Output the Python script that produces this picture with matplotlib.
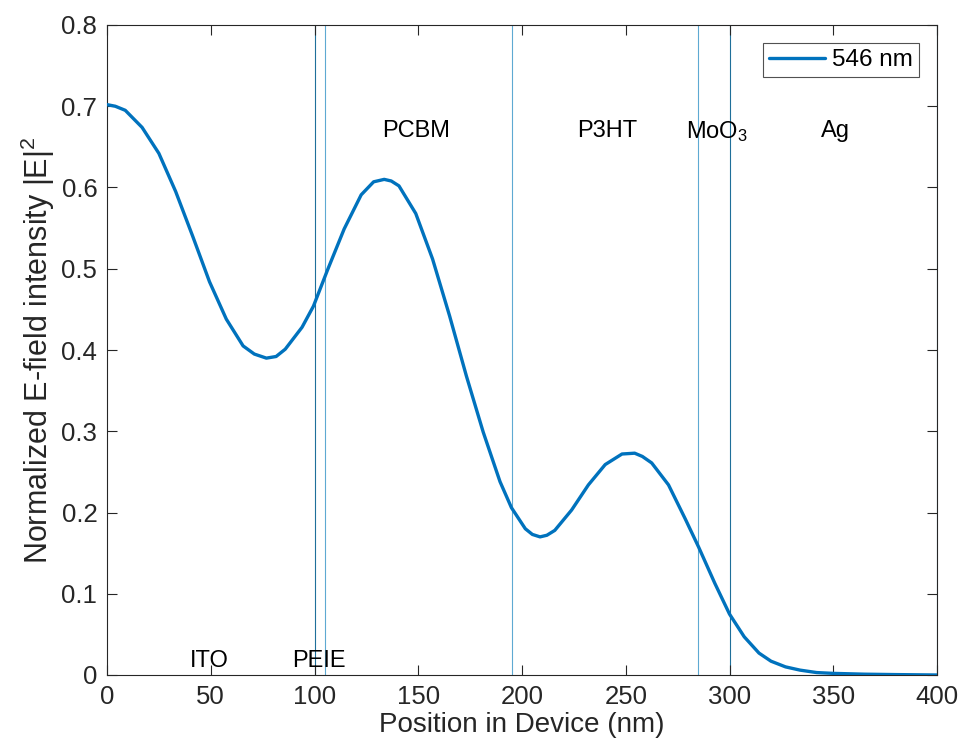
import numpy as np
import matplotlib
matplotlib.use('Agg')
import matplotlib.pyplot as plt

# E-field profile (position nm, normalized |E|^2)
pos = [0, 4, 8.8, 16.9, 25.0, 33.1, 41.3, 49.4, 57.5, 65.6, 71, 76.8, 81.5,
       85.9, 94.0, 99.5, 106.2, 114.3, 122.5, 128.5, 133.6, 137, 140.7, 148.8,
       156.9, 165.1, 173.2, 181.3, 189.4, 194.9, 201.6, 205, 208.7, 212, 215.8,
       223.9, 232.0, 240.1, 248.2, 254.3, 258, 262.5, 270.6, 278.7, 285.2,
       292.9, 300, 307.1, 314.2, 320, 327, 334, 342, 350, 365, 380, 400]
field = [0.702, 0.700, 0.695, 0.674, 0.642, 0.595, 0.540, 0.484, 0.438, 0.405,
         0.395, 0.390, 0.392, 0.401, 0.428, 0.454, 0.498, 0.549, 0.591, 0.607,
         0.610, 0.608, 0.602, 0.568, 0.512, 0.442, 0.368, 0.299, 0.238, 0.206,
         0.180, 0.173, 0.170, 0.172, 0.178, 0.203, 0.234, 0.259, 0.272, 0.273,
         0.269, 0.261, 0.234, 0.192, 0.157, 0.113, 0.075, 0.047, 0.027, 0.017,
         0.010, 0.006, 0.003, 0.002, 0.001, 0.0005, 0.0]

# layer boundaries (nm)
bounds = [100, 105, 195, 285, 300, 400]
bound_dark = [True, False, False, False, True, False]

# layer labels: text, x, y
layer_names = ['ITO', 'PEIE', 'PCBM', 'P3HT', 'MoO$_3$', 'Ag']
layer_x = [49.5, 102, 149, 241, 294, 351]
layer_y = [0.017, 0.017, 0.669, 0.669, 0.669, 0.669]

plt.rcParams['font.family'] = ['Liberation Sans', 'DejaVu Sans']
plt.rcParams['mathtext.fontset'] = 'custom'
plt.rcParams['mathtext.rm'] = 'Liberation Sans'
plt.rcParams['mathtext.it'] = 'Liberation Sans'

fig = plt.figure(figsize=(9.66, 7.46), dpi=100)
ax = fig.add_axes([107/966, 71/746, 830/966, 650/746])

for b, dark in zip(bounds, bound_dark):
    ax.axvline(b, color='#1f6f9a' if dark else '#5ea9d2', lw=0.8, zorder=1)

ax.plot(pos, field, color='#0072BD', lw=2.4, label='546 nm', zorder=3,
        solid_joinstyle='round', solid_capstyle='round')

for name, x, y in zip(layer_names, layer_x, layer_y):
    ax.text(x, y, name, ha='center', va='center', fontsize=17, color='black')

ax.set_xlim(0, 400)
ax.set_ylim(0, 0.8)
ax.set_xticks(np.arange(0, 401, 50))
ax.set_yticks(np.arange(0, 0.81, 0.1))
ax.set_yticklabels(['0', '0.1', '0.2', '0.3', '0.4', '0.5', '0.6', '0.7', '0.8'])
ax.tick_params(direction='in', top=True, right=True, labelsize=18.5,
               colors='#262626', length=7, width=0.8, pad=7)
for s in ax.spines.values():
    s.set_color('#262626')
    s.set_linewidth(0.8)

ax.set_xlabel('Position in Device (nm)', fontsize=20, color='#262626', labelpad=2)
ax.set_ylabel('Normalized E-field intensity |E|$^2$', fontsize=22,
              color='#262626', labelpad=3)

leg = ax.legend(loc='upper right', fontsize=17.5, frameon=True, fancybox=False,
                handlelength=2.3, borderaxespad=0.75, borderpad=0.25,
                handletextpad=0.3)
leg.get_frame().set_edgecolor('#262626')
leg.get_frame().set_linewidth(0.8)

fig.savefig('out.png', dpi=100)
